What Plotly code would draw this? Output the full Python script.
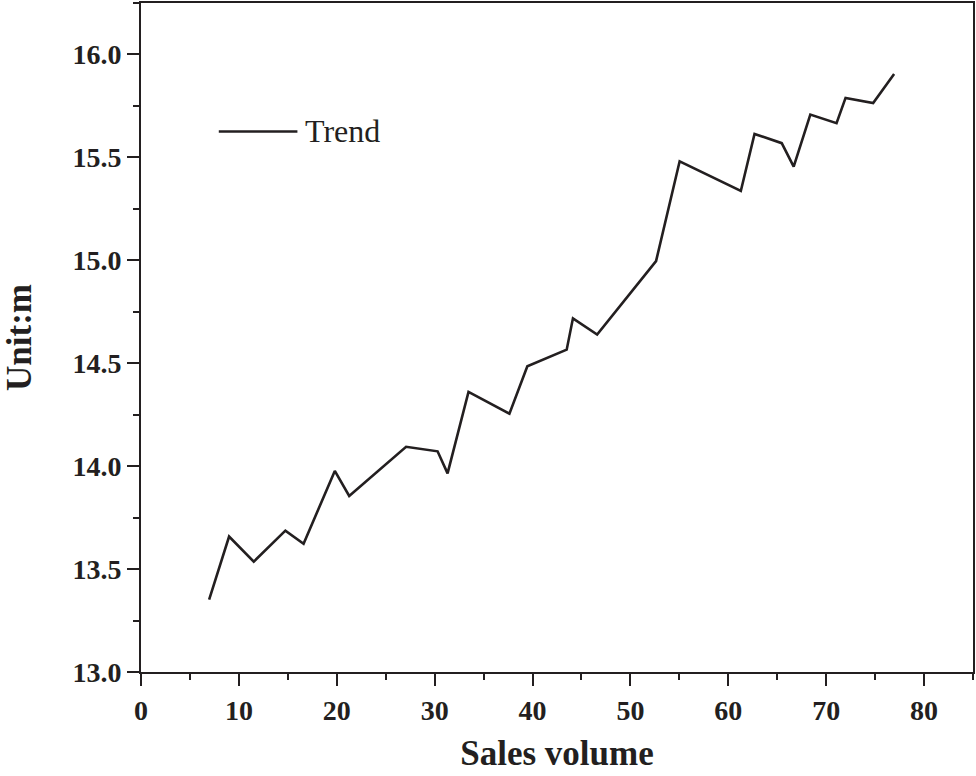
import plotly.graph_objects as go

# sales volume vs unit
sales = [6.96, 9.0, 11.52, 14.75, 16.61, 19.80, 21.27, 27.08, 30.30, 31.32,
         33.46, 37.64, 39.47, 43.49, 44.13, 46.60, 52.62, 55.03, 61.28, 62.68,
         65.46, 66.68, 68.38, 71.06, 71.98, 74.80, 76.94]
unit = [13.352, 13.658, 13.536, 13.687, 13.623, 13.977, 13.855, 14.094, 14.072, 13.965,
        14.361, 14.255, 14.485, 14.566, 14.718, 14.639, 14.996, 15.481, 15.337, 15.614,
        15.569, 15.455, 15.708, 15.666, 15.789, 15.764, 15.905]

x_ticks = [0, 10, 20, 30, 40, 50, 60, 70, 80]
y_ticks = [13.0, 13.5, 14.0, 14.5, 15.0, 15.5, 16.0]
y_labels = ["13.0", "13.5", "14.0", "14.5", "15.0", "15.5", "16.0"]

serif = "Liberation Serif, Times New Roman, serif"
ink = "#231f20"

fig = go.Figure()
fig.add_trace(go.Scatter(x=sales, y=unit, mode="lines", name="Trend",
                         line=dict(color=ink, width=2.6), showlegend=False))

# legend drawn by hand so the key line is long like the original
fig.add_shape(type="line", xref="paper", yref="paper",
              x0=0.0935, x1=0.188, y0=0.808, y1=0.808,
              line=dict(color=ink, width=2.6))
fig.add_annotation(text="Trend", xref="paper", yref="paper", x=0.195, y=0.808,
                   xanchor="left", yanchor="middle", showarrow=False,
                   font=dict(family=serif, size=32, color=ink))

axis_common = dict(showgrid=False, zeroline=False, showline=True, mirror=True,
                   linecolor=ink, linewidth=2, ticks="outside", ticklen=12,
                   tickwidth=2, tickcolor=ink,
                   tickfont=dict(family=serif, size=28, color=ink, weight="bold"))

fig.update_xaxes(range=[0, 85], tickvals=x_ticks,
                 minor=dict(dtick=5, tick0=0, ticks="outside", ticklen=6,
                            tickwidth=2, tickcolor=ink),
                 title=dict(text="Sales volume", standoff=16,
                            font=dict(family=serif, size=35, color=ink, weight="bold")),
                 **axis_common)
fig.update_yaxes(range=[13.0, 16.25], tickvals=y_ticks, ticktext=y_labels,
                 minor=dict(dtick=0.25, tick0=13.0, ticks="outside", ticklen=6,
                            tickwidth=2, tickcolor=ink),
                 title=dict(text="Unit:m", standoff=32,
                            font=dict(family=serif, size=35, color=ink, weight="bold")),
                 **axis_common)

fig.update_layout(width=976, height=776, plot_bgcolor="white", paper_bgcolor="white",
                  margin=dict(l=141, r=1, t=1, b=104))

# drop the browser's default body margin so the figure sits at 0,0
fig.write_html("out.html", config={"displayModeBar": False},
               post_script="document.body.style.margin='0px';")
